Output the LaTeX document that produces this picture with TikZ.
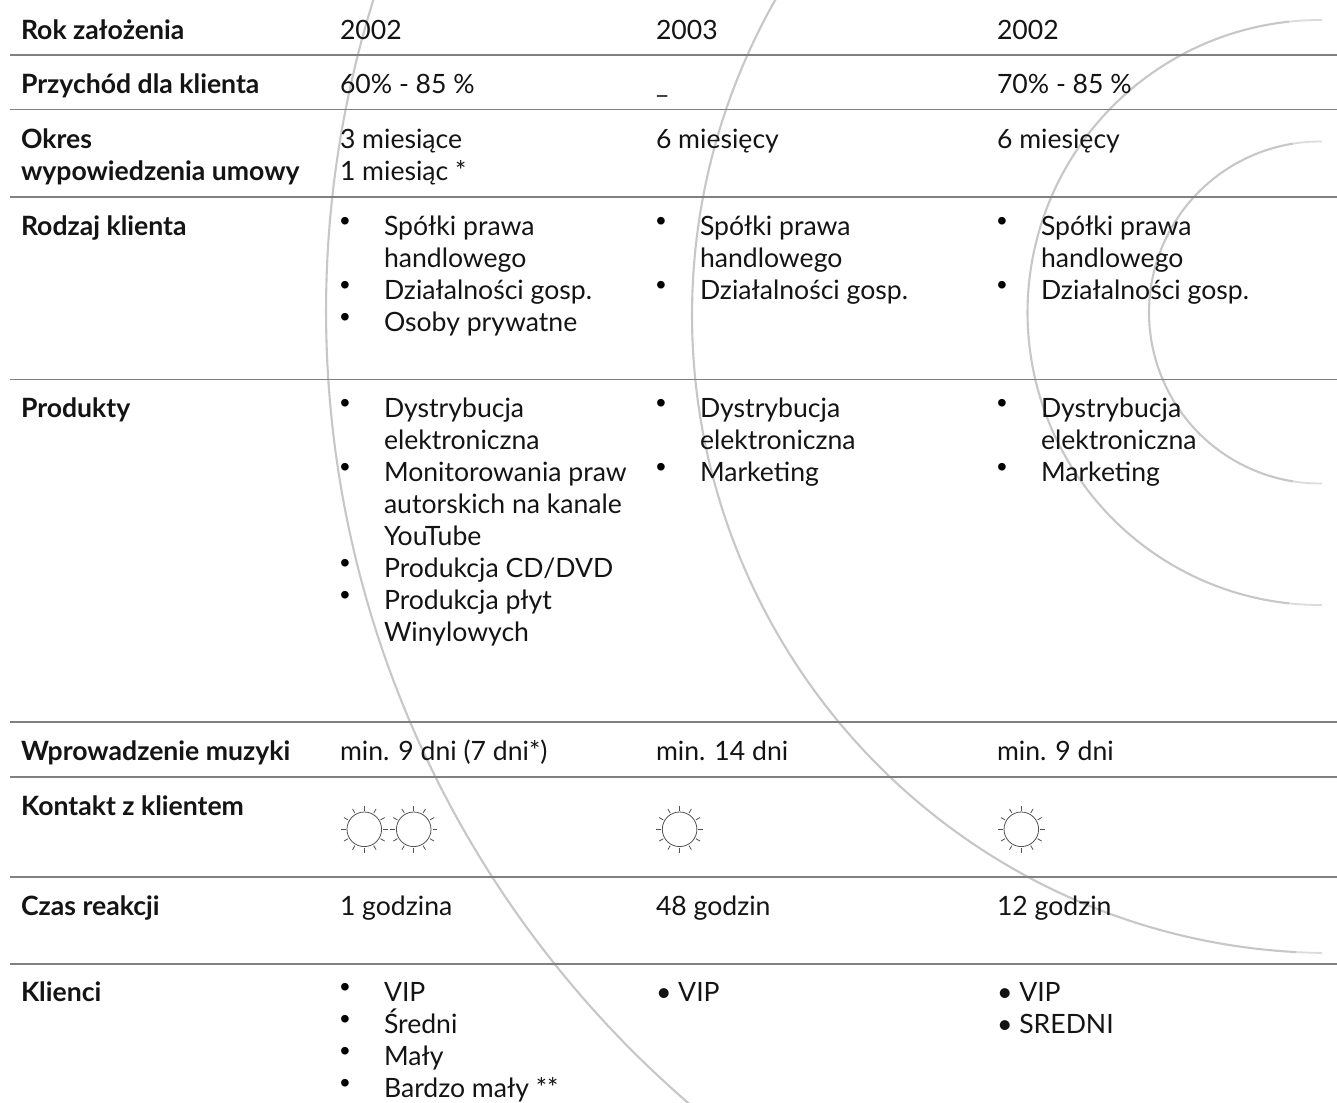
\documentclass[tikz,border=0pt]{standalone}
\usepackage{fontspec}
\setmainfont{Lato}
\newfontfamily\bulfont{Liberation Sans}
\tikzset{
  txt/.style={anchor=base west,inner sep=0pt,outer sep=0pt,text=black!92,yshift=-0.6pt},
  hd/.style={txt,font=\fontsize{26.6}{32}\selectfont\bfseries},
  val/.style={txt,font=\fontsize{26.6}{32}\selectfont},
  bul/.style={txt,font=\bulfont\fontsize{28}{32}\selectfont,text=black},
  rule/.style={draw=black!50,line width=1.3pt},
  ring/.style={draw=black!22,line width=2.1pt},
  ringend/.style={draw=black!14,line width=1.8pt},
  sunline/.style={draw=black!68,line width=0.8pt}
}
\newcommand{\hdnode}[3]{\node[hd] (#1) at (21,#2) {#3};}
\newcommand{\valnode}[4]{\node[val] (#1) at (#2,#3) {#4};}
\newcommand{\itemnode}[4]{%
  \node[bul] (#1b) at (#2,#3-5) {•};
  \node[val] (#1) at (#2+44,#3) {#4};}
\newcommand{\sunmark}[3]{%
  \node[draw=black!68,line width=0.8pt,circle,minimum size=34.6pt,inner sep=0pt] (#1) at (#2,#3) {};
  \foreach \a in {0,30,...,330}
    \draw[sunline] ($(#1.center)+(\a:18.8)$) -- ($(#1.center)+(\a:23.5)$);}
\usetikzlibrary{calc}
\begin{document}
\begin{tikzpicture}[x=1pt,y=-1pt]
\useasboundingbox (0,0) rectangle (1337,1102);
\fill[white] (0,0) rectangle (1337,1102);
\begin{scope}
\clip (0,0) rectangle (1337,1102);
% rings
\draw[ring] plot[domain=130:235,samples=300] ({1373+1047*cos(\x)},{311+1047*sin(\x)});
\draw[ring] plot[domain=93:268,samples=300] ({1330+638*cos(\x)},{315+638*sin(\x)});
\draw[ringend] plot[domain=90.7:93,samples=10] ({1330+638*cos(\x)},{315+638*sin(\x)});
\draw[ring] plot[domain=96:264,samples=200] ({1320+292.5*cos(\x)},{312.5+292.5*sin(\x)});
\draw[ringend] plot[domain=89.6:96,samples=10] ({1320+292.5*cos(\x)},{312.5+292.5*sin(\x)});
\draw[ringend] plot[domain=264:270.4,samples=10] ({1320+292.5*cos(\x)},{312.5+292.5*sin(\x)});
\draw[ring] plot[domain=99:261,samples=200] ({1320+171*cos(\x)},{312.5+171*sin(\x)});
\draw[ringend] plot[domain=89.3:99,samples=10] ({1320+171*cos(\x)},{312.5+171*sin(\x)});
\draw[ringend] plot[domain=261:270.7,samples=10] ({1320+171*cos(\x)},{312.5+171*sin(\x)});
\end{scope}
% rules
\foreach \yy in {55,109.5,197,379.5,722,777,877,964}
  \draw[rule] (10,\yy) -- (1337,\yy);
% row heads
\hdnode{h1}{39}{Rok założenia}
\hdnode{h2}{93}{Przychód dla klienta}
\hdnode{h3}{148}{Okres}
\hdnode{h3b}{180}{wypowiedzenia umowy}
\hdnode{h4}{235}{Rodzaj klienta}
\hdnode{h5}{417}{Produkty}
\hdnode{h6}{760}{Wprowadzenie muzyki}
\hdnode{h7}{815}{Kontakt z klientem}
\hdnode{h8}{915}{Czas reakcji}
\hdnode{h9}{1001}{Klienci}
% year
\valnode{a1}{340}{39}{2002}
\valnode{b1}{656}{39}{2003}
\valnode{c1}{997}{39}{2002}
% revenue
\valnode{a2}{340}{93}{60\% - 85 \%}
\valnode{b2}{656}{93}{\_}
\valnode{c2}{997}{93}{70\% - 85 \%}
% notice
\valnode{a3}{340}{148}{3 miesiące}
\valnode{a3b}{340}{180}{1 miesiąc *}
\valnode{b3}{656}{148}{6 miesięcy}
\valnode{c3}{997}{148}{6 miesięcy}
% client type
\itemnode{a4a}{340}{235}{Spółki prawa}
\valnode{a4b}{384}{267}{handlowego}
\itemnode{a4c}{340}{299}{Działalności gosp.}
\itemnode{a4d}{340}{331}{Osoby prywatne}
\itemnode{b4a}{656}{235}{Spółki prawa}
\valnode{b4b}{700}{267}{handlowego}
\itemnode{b4c}{656}{299}{Działalności gosp.}
\itemnode{c4a}{997}{235}{Spółki prawa}
\valnode{c4b}{1041}{267}{handlowego}
\itemnode{c4c}{997}{299}{Działalności gosp.}
% products
\itemnode{a5a}{340}{417}{Dystrybucja}
\valnode{a5b}{384}{449}{elektroniczna}
\itemnode{a5c}{340}{481}{Monitorowania praw}
\valnode{a5d}{384}{513}{autorskich na kanale}
\valnode{a5e}{384}{545}{YouTube}
\itemnode{a5f}{340}{577}{Produkcja CD/DVD}
\itemnode{a5g}{340}{609}{Produkcja płyt}
\valnode{a5h}{384}{641}{Winylowych}
\itemnode{b5a}{656}{417}{Dystrybucja}
\valnode{b5b}{700}{449}{elektroniczna}
\itemnode{b5c}{656}{481}{Marketing}
\itemnode{c5a}{997}{417}{Dystrybucja}
\valnode{c5b}{1041}{449}{elektroniczna}
\itemnode{c5c}{997}{481}{Marketing}
% intake
\valnode{a6}{340}{760}{min. 9 dni (7 dni*)}
\valnode{b6}{656}{760}{min. 14 dni}
\valnode{c6}{997}{760}{min. 9 dni}
% suns
\sunmark{s1}{364.3}{829.3}
\sunmark{s2}{413.7}{829.3}
\sunmark{s3}{679.6}{829.3}
\sunmark{s4}{1021.3}{829.3}
% reaction
\valnode{a8}{340}{915}{1 godzina}
\valnode{b8}{656}{915}{48 godzin}
\valnode{c8}{997}{915}{12 godzin}
% clients
\itemnode{a9a}{340}{1001}{VIP}
\itemnode{a9b}{340}{1033}{Średni}
\itemnode{a9c}{340}{1065}{Mały}
\itemnode{a9d}{340}{1097}{Bardzo mały **}
\valnode{b9}{656}{1001}{• VIP}
\valnode{c9a}{997}{1001}{• VIP}
\valnode{c9b}{997}{1033}{• SREDNI}
\end{tikzpicture}
\end{document}
